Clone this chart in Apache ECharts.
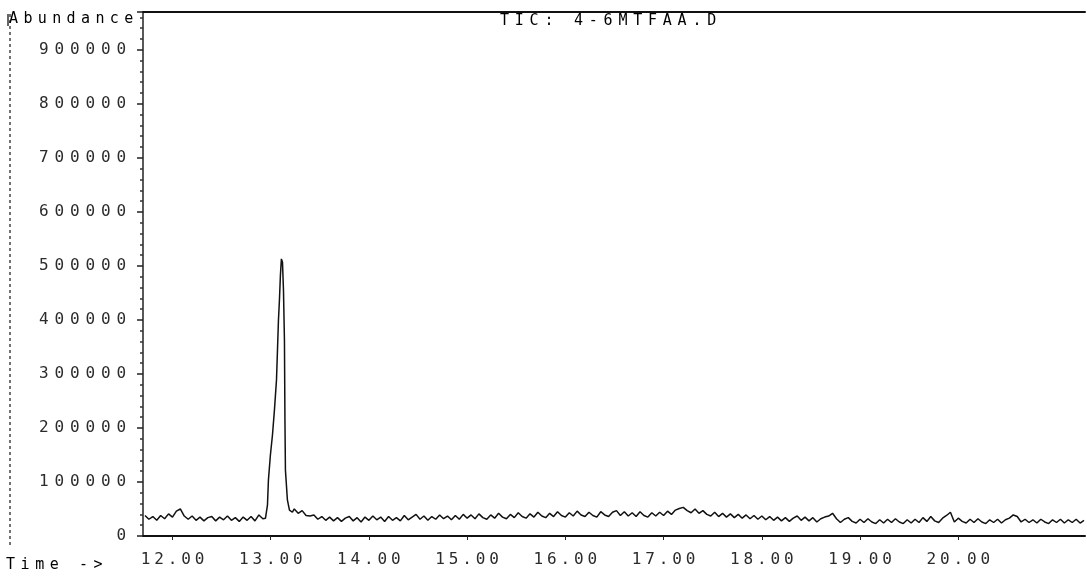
<!DOCTYPE html>
<html>
<head>
<meta charset="utf-8">
<title>TIC: 4-6MTFAA.D</title>
<script src="https://cdn.jsdelivr.net/npm/echarts@6/dist/echarts.min.js"></script>
<style>
  html, body { margin: 0; padding: 0; background: #fff; }
  #chart { width: 1087px; height: 576px; }
</style>
</head>
<body>
<div id="chart"></div>
<script>
// Total ion chromatogram: retention time (min) vs. abundance (counts)
const scanTime = [
  11.72, 11.76, 11.80, 11.84, 11.88, 11.92, 11.96, 12.00, 12.04, 12.08,
  12.12, 12.16, 12.20, 12.24, 12.28, 12.32, 12.36, 12.40, 12.44, 12.48,
  12.52, 12.56, 12.60, 12.64, 12.68, 12.72, 12.76, 12.80, 12.84, 12.88,
  12.92,
  12.947, 12.967, 12.977, 12.997, 13.018, 13.038, 13.059, 13.069, 13.079, 13.089,
  13.099, 13.109, 13.120, 13.130, 13.140, 13.145, 13.150, 13.170, 13.191, 13.221,
  13.24, 13.28, 13.32, 13.36, 13.40, 13.44, 13.48, 13.52, 13.56, 13.60,
  13.64, 13.68, 13.72, 13.76, 13.80, 13.84, 13.88, 13.92, 13.96, 14.00,
  14.04, 14.08, 14.12, 14.16, 14.20, 14.24, 14.28, 14.32, 14.36, 14.40,
  14.44, 14.48, 14.52, 14.56, 14.60, 14.64, 14.68, 14.72, 14.76, 14.80,
  14.84, 14.88, 14.92, 14.96, 15.00, 15.04, 15.08, 15.12, 15.16, 15.20,
  15.24, 15.28, 15.32, 15.36, 15.40, 15.44, 15.48, 15.52, 15.56, 15.60,
  15.64, 15.68, 15.72, 15.76, 15.80, 15.84, 15.88, 15.92, 15.96, 16.00,
  16.04, 16.08, 16.12, 16.16, 16.20, 16.24, 16.28, 16.32, 16.36, 16.40,
  16.44, 16.48, 16.52, 16.56, 16.60, 16.64, 16.68, 16.72, 16.76, 16.80,
  16.84, 16.88, 16.92, 16.96, 17.00, 17.04, 17.08, 17.12, 17.16, 17.20,
  17.24, 17.28, 17.32, 17.36, 17.40, 17.44, 17.48, 17.52, 17.56, 17.60,
  17.64, 17.68, 17.72, 17.76, 17.80, 17.84, 17.88, 17.92, 17.96, 18.00,
  18.04, 18.08, 18.12, 18.16, 18.20, 18.24, 18.28, 18.32, 18.36, 18.40,
  18.44, 18.48, 18.52, 18.56, 18.60, 18.64, 18.68, 18.72, 18.76, 18.80,
  18.84, 18.88, 18.92, 18.96, 19.00, 19.04, 19.08, 19.12, 19.16, 19.20,
  19.24, 19.28, 19.32, 19.36, 19.40, 19.44, 19.48, 19.52, 19.56, 19.60,
  19.64, 19.68, 19.72, 19.76, 19.80, 19.84, 19.88, 19.92, 19.96, 20.00,
  20.04, 20.08, 20.12, 20.16, 20.20, 20.24, 20.28, 20.32, 20.36, 20.40,
  20.44, 20.48, 20.52, 20.56, 20.60, 20.64, 20.68, 20.72, 20.76, 20.80,
  20.84, 20.88, 20.92, 20.96, 21.00, 21.04, 21.08, 21.12, 21.16, 21.20,
  21.24, 21.28
];

const abundance = [
  38000, 31000, 36000, 29000, 38000, 32000, 41000, 35000, 46000, 50000,
  37000, 31000, 37000, 29000, 35000, 28000, 34000, 36000, 28000, 35000,
  30000, 37000, 29000, 34000, 27000, 35000, 29000, 36000, 28000, 39000,
  32000,
  33000, 57000, 104000, 150000, 187000, 233000, 289000, 344000, 400000, 437000,
  483000, 513000, 507000, 456000, 363000, 215000, 122000, 67000, 48000, 44000,
  50000, 42000, 47000, 38000, 37000, 39000, 31000, 36000, 29000, 35000,
  28000, 34000, 27000, 33000, 36000, 28000, 34000, 26000, 35000, 29000,
  37000, 30000, 35000, 27000, 36000, 29000, 34000, 28000, 38000, 30000,
  35000, 40000, 31000, 37000, 29000, 36000, 31000, 39000, 32000, 37000,
  30000, 38000, 31000, 40000, 33000, 39000, 32000, 41000, 34000, 31000,
  39000, 33000, 42000, 35000, 32000, 40000, 34000, 43000, 36000, 33000,
  41000, 35000, 44000, 37000, 34000, 42000, 36000, 45000, 38000, 35000,
  43000, 37000, 46000, 39000, 36000, 44000, 38000, 35000, 45000, 39000,
  36000, 44000, 47000, 38000, 45000, 37000, 43000, 36000, 45000, 38000,
  35000, 43000, 37000, 44000, 38000, 46000, 40000, 48000, 51000, 53000,
  47000, 43000, 50000, 42000, 47000, 40000, 37000, 44000, 36000, 42000,
  35000, 41000, 34000, 40000, 33000, 39000, 32000, 38000, 31000, 37000,
  30000, 36000, 29000, 35000, 28000, 34000, 27000, 33000, 37000, 29000,
  35000, 28000, 34000, 26000, 32000, 35000, 37000, 42000, 32000, 25000,
  31000, 34000, 27000, 24000, 31000, 25000, 32000, 26000, 23000, 30000,
  24000, 31000, 25000, 32000, 26000, 23000, 30000, 24000, 31000, 25000,
  34000, 27000, 36000, 28000, 25000, 33000, 38000, 44000, 26000, 33000,
  27000, 24000, 31000, 25000, 32000, 26000, 23000, 30000, 25000, 31000,
  24000, 30000, 33000, 39000, 36000, 26000, 31000, 25000, 30000, 24000,
  31000, 26000, 23000, 30000, 25000, 31000, 24000, 30000, 25000, 31000,
  24000, 29000
];

const timeTicks = [12, 13, 14, 15, 16, 17, 18, 19, 20];
const titleText = 'TIC: 4-6MTFAA.D';
const yAxisName = 'Abundance';
const xAxisName = 'Time ->';

// Plotter-style text: every character sits in a fixed-width cell
function spaced(str, key) {
  return str.split('').map(function (ch) { return '{' + key + '|' + ch + '}'; }).join('');
}
const FONT = '"DejaVu Sans Mono", "Liberation Mono", monospace';
const INK = '#2b2b2b';
function cell(w, size) {
  return { width: w, align: 'center', fontFamily: FONT, fontSize: size || 15, color: INK };
}

const points = scanTime.map(function (t, i) { return [t, abundance[i]]; });

const chart = echarts.init(document.getElementById('chart'), null, { renderer: 'canvas' });
chart.setOption({
  animation: false,
  backgroundColor: '#ffffff',
  grid: { left: 143, right: 2, top: 12, bottom: 40, containLabel: false },
  xAxis: [
    {
      type: 'value',
      min: 11.7,
      max: 21.29,
      offset: 8,
      axisLine: { show: true, lineStyle: { color: '#111', width: 2 } },
      axisTick: {
        show: true, inside: false, length: 4, customValues: timeTicks,
        lineStyle: { color: '#222', width: 1 }
      },
      axisLabel: {
        show: true, margin: 8, customValues: timeTicks,
        formatter: function (v) { return spaced(v.toFixed(2), 'x'); },
        rich: { x: cell(13.5, 16) }
      },
      splitLine: { show: false }
    },
    {
      type: 'value',
      position: 'top',
      min: 11.7,
      max: 21.29,
      axisLine: { show: true, lineStyle: { color: '#111', width: 2 } },
      axisTick: { show: false },
      axisLabel: { show: false },
      splitLine: { show: false }
    }
  ],
  yAxis: {
    type: 'value',
    min: 0,
    max: 970000,
    interval: 100000,
    axisLine: { show: true, lineStyle: { color: '#222', width: 1.5 } },
    axisTick: { show: true, inside: false, length: 6, lineStyle: { color: '#222', width: 1.5 } },
    minorTick: { show: true, splitNumber: 5, length: 3, lineStyle: { color: '#333', width: 1.5 } },
    axisLabel: {
      margin: 14,
      formatter: function (v) { return v > 900000 ? '' : spaced(String(v), 'y'); },
      rich: { y: cell(15.5, 16) }
    },
    splitLine: { show: false }
  },
  series: [{
    type: 'line',
    xAxisIndex: 0,
    data: points,
    showSymbol: false,
    symbol: 'none',
    lineStyle: { color: '#111', width: 1.5 },
    z: 3
  }],
  graphic: [
    {
      type: 'line',
      shape: { x1: 10, y1: 14, x2: 10, y2: 546 },
      style: { stroke: '#444', lineWidth: 1.5, lineDash: [3, 3] }
    },
    {
      type: 'line',
      shape: { x1: 8, y1: 14, x2: 8, y2: 26 },
      style: { stroke: '#333', lineWidth: 1.5 }
    },
    {
      type: 'text',
      left: 9, top: 12,
      style: { text: spaced(yAxisName, 'a'), rich: { a: cell(14.4, 15) } }
    },
    {
      type: 'text',
      left: 500, top: 14,
      style: { text: spaced(titleText, 'h'), rich: { h: cell(14.8, 15) } }
    },
    {
      type: 'text',
      left: 6, top: 558,
      style: { text: spaced(xAxisName, 'm'), rich: { m: cell(14.6, 15) } }
    }
  ]
});
</script>
</body>
</html>
